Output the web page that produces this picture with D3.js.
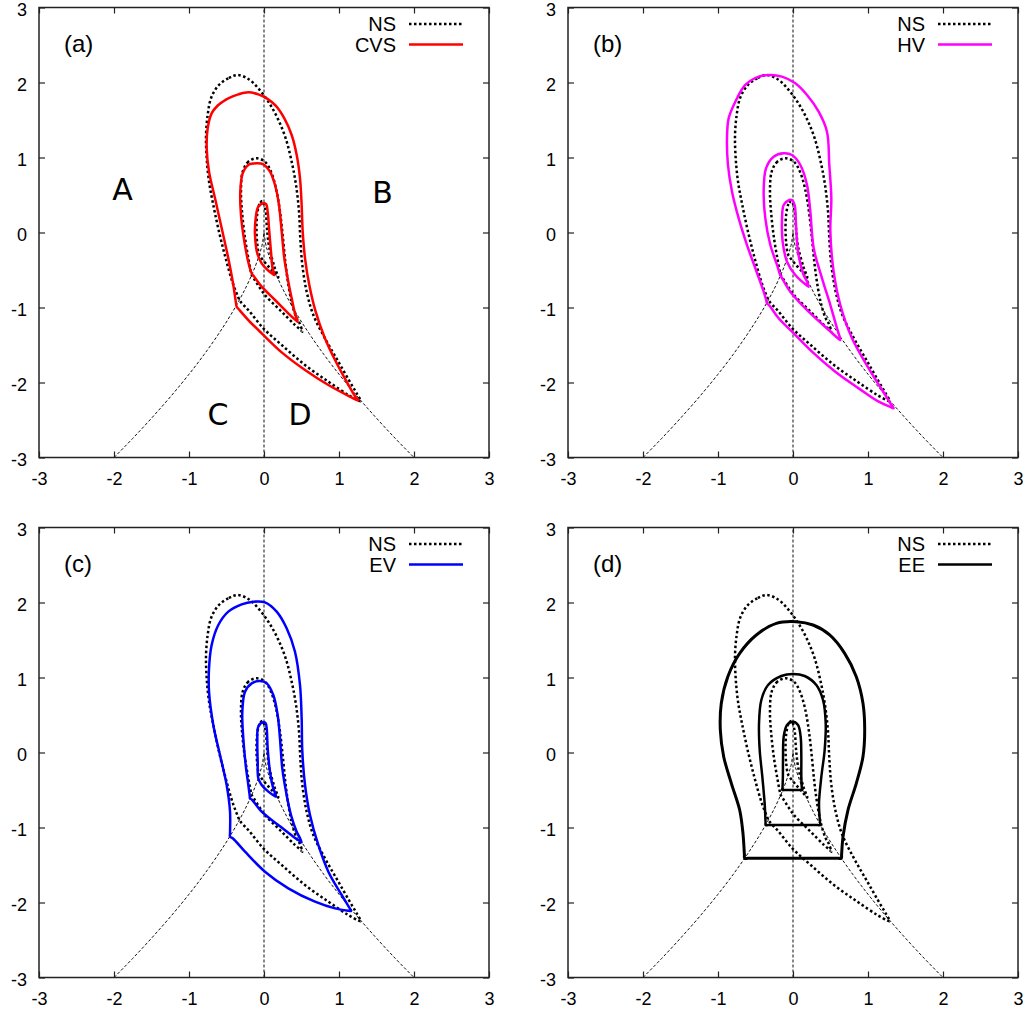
<!DOCTYPE html>
<html>
<head>
<meta charset="utf-8">
<script src="https://cdn.jsdelivr.net/npm/d3@7"></script>
<style>
  body { margin: 0; background: #fff; }
  svg { display: block; }
  text { font-family: "Liberation Sans", Arial, Helvetica, sans-serif; fill: #000; }
</style>
</head>
<body>
<svg id="chart"></svg>
<script>
// ---- data (in Q/R units) ----
const tickValues = [-3, -2, -1, 0, 1, 2, 3]

// zero discriminant line, two branches meeting at the origin
const tailLeft = [[-2, -3], [-1.75, -2.745], [-1.5, -2.476], [-1.25, -2.193], [-1, -1.89], [-0.8, -1.629], [-0.6, -1.344],
    [-0.45, -1.11], [-0.3, -0.847], [-0.2, -0.646], [-0.1, -0.407], [-0.05, -0.257], [-0.02, -0.14], [0, 0]]
const tailRight = [[0, 0], [0.02, -0.14], [0.05, -0.257], [0.1, -0.407], [0.2, -0.646], [0.3, -0.847], [0.45, -1.11],
    [0.6, -1.344], [0.8, -1.629], [1, -1.89], [1.25, -2.193], [1.5, -2.476], [1.75, -2.745], [2, -3]]
const zeroLine = [[0, -3], [0, 3]]

// NS (reference) contours
const nsOuter = [[-0.351, 2.10], [-0.476, 2.056], [-0.609, 1.958], [-0.707, 1.789], [-0.751, 1.567], [-0.773, 1.30],
    [-0.764, 0.989], [-0.733, 0.678], [-0.676, 0.367], [-0.60, 0.011], [-0.511, -0.344], [-0.422, -0.656],
    [-0.345, -0.86], [-0.32, -0.913], [-0.28, -0.96], [-0.209, -1.033], [-0.009, -1.278], [0.236, -1.5], [0.547, -1.767],
    [0.858, -1.989], [1.124, -2.167], [1.25, -2.235], [1.289, -2.25], [1.24, -2.15], [1.169, -2.033], [0.991, -1.722],
    [0.813, -1.411], [0.658, -1.1], [0.569, -0.789], [0.511, -0.433], [0.484, -0.078], [0.467, 0.278], [0.427, 0.633],
    [0.369, 0.944], [0.289, 1.256], [0.182, 1.522], [0.058, 1.744], [-0.076, 1.922], [-0.209, 2.047]]
const nsMiddle = [[-0.098, 0.989], [-0.209, 0.944], [-0.284, 0.811], [-0.307, 0.544], [-0.289, 0.233], [-0.253, -0.078],
    [-0.209, -0.344], [-0.18, -0.5], [-0.164, -0.567], [-0.13, -0.62], [0.013, -0.833], [0.236, -1.056], [0.413, -1.233],
    [0.49, -1.3], [0.511, -1.322], [0.47, -1.2], [0.436, -1.144], [0.378, -0.967], [0.333, -0.744], [0.289, -0.433],
    [0.253, -0.078], [0.213, 0.278], [0.16, 0.589], [0.093, 0.811], [0.013, 0.944]]
const nsInner = [[-0.02, 0.42], [-0.06, 0.38], [-0.09, 0.25], [-0.10, 0.05], [-0.09, -0.15], [-0.07, -0.28], [-0.05, -0.32],
    [0.03, -0.42], [0.12, -0.52], [0.19, -0.6], [0.14, -0.46], [0.07, -0.2], [0.04, 0.05], [0.02, 0.3]]

// CVS
const cvsOuter = [[-0.342, 1.842], [-0.209, 1.869], [-0.076, 1.842], [0.036, 1.789], [0.156, 1.691], [0.271, 1.522],
    [0.369, 1.30], [0.436, 1.033], [0.48, 0.722], [0.502, 0.367], [0.516, 0.011], [0.547, -0.344], [0.604, -0.70],
    [0.689, -1.056], [0.804, -1.389], [0.947, -1.70], [1.102, -1.989], [1.204, -2.167], [1.24, -2.215], [1.258, -2.24],
    [1.22, -2.225], [1.147, -2.189], [0.858, -2.033], [0.547, -1.833], [0.236, -1.598], [-0.031, -1.344],
    [-0.209, -1.167], [-0.33, -1.03], [-0.364, -0.989], [-0.375, -0.93], [-0.409, -0.70], [-0.476, -0.344],
    [-0.564, 0.056], [-0.653, 0.456], [-0.733, 0.811], [-0.764, 1.122], [-0.751, 1.389], [-0.698, 1.589],
    [-0.62, 1.69], [-0.556, 1.74], [-0.476, 1.789]]
const cvsMiddle = [[-0.098, 0.922], [-0.209, 0.90], [-0.284, 0.789], [-0.316, 0.544], [-0.307, 0.233], [-0.262, -0.122],
    [-0.20, -0.433], [-0.17, -0.53], [-0.156, -0.558], [-0.13, -0.59], [-0.031, -0.722], [0.147, -0.90], [0.324, -1.078],
    [0.43, -1.175], [0.449, -1.189], [0.43, -1.13], [0.413, -1.078], [0.369, -0.878], [0.324, -0.656], [0.271, -0.344],
    [0.236, 0.011], [0.20, 0.367], [0.147, 0.633], [0.08, 0.811], [-0.009, 0.909]]
const cvsInner = [[-0.009, 0.389], [-0.076, 0.344], [-0.111, 0.189], [-0.12, -0.033], [-0.089, -0.278], [-0.031, -0.411],
    [0.049, -0.50], [0.125, -0.56], [0.138, -0.567], [0.12, -0.50], [0.111, -0.456], [0.093, -0.256], [0.067, 0.056],
    [0.049, 0.278], [0.027, 0.378]]

// HV
const hvOuter = [[-0.302, 2.10], [-0.458, 2.078], [-0.636, 1.967], [-0.769, 1.744], [-0.858, 1.522], [-0.88, 1.256],
    [-0.867, 0.90], [-0.813, 0.544], [-0.724, 0.189], [-0.613, -0.167], [-0.502, -0.478], [-0.391, -0.789],
    [-0.355, -0.91], [-0.347, -0.944], [-0.31, -0.98], [-0.191, -1.144], [-0.013, -1.322], [0.253, -1.589],
    [0.564, -1.856], [0.876, -2.078], [1.142, -2.256], [1.31, -2.33], [1.342, -2.344], [1.30, -2.28], [1.231, -2.167],
    [1.009, -1.811], [0.787, -1.411], [0.631, -0.967], [0.542, -0.522], [0.498, 0.011], [0.511, 0.456], [0.484, 0.90],
    [0.453, 1.344], [0.342, 1.611], [0.187, 1.833], [0.031, 1.989], [-0.147, 2.078]]
const hvMiddle = [[-0.124, 1.056], [-0.258, 1.011], [-0.36, 0.856], [-0.391, 0.544], [-0.369, 0.189], [-0.302, -0.167],
    [-0.213, -0.433], [-0.18, -0.54], [-0.169, -0.567], [-0.14, -0.62], [-0.036, -0.789], [0.209, -1.056], [0.476, -1.30],
    [0.61, -1.42], [0.631, -1.433], [0.61, -1.35], [0.587, -1.278], [0.498, -0.967], [0.387, -0.611], [0.276, -0.211],
    [0.231, 0.278], [0.187, 0.633], [0.098, 0.90], [-0.013, 1.033]]
const hvInner = [[-0.049, 0.433], [-0.124, 0.367], [-0.147, 0.144], [-0.138, -0.122], [-0.08, -0.389], [0.031, -0.567],
    [0.19, -0.71], [0.209, -0.722], [0.18, -0.64], [0.142, -0.567], [0.067, -0.256], [0.04, 0.10], [0.022, 0.367],
    [-0.013, 0.433]]

// EV
const evOuter = [[-0.142, 2.011], [-0.298, 1.976], [-0.476, 1.878], [-0.609, 1.70], [-0.698, 1.433], [-0.733, 1.122],
    [-0.733, 0.811], [-0.676, 0.367], [-0.587, -0.033], [-0.498, -0.433], [-0.453, -0.789], [-0.453, -1.08],
    [-0.453, -1.122], [-0.41, -1.15], [-0.253, -1.322], [0.013, -1.589], [0.324, -1.811], [0.68, -1.989],
    [0.947, -2.078], [1.13, -2.11], [1.16, -2.113], [1.12, -2.04], [1.036, -1.90], [0.858, -1.589], [0.724, -1.233],
    [0.613, -0.833], [0.547, -0.433], [0.511, 0.011], [0.502, 0.456], [0.48, 0.90], [0.413, 1.344], [0.302, 1.656],
    [0.169, 1.878], [0.013, 2.002]]
const evMiddle = [[-0.053, 0.953], [-0.164, 0.922], [-0.253, 0.811], [-0.289, 0.544], [-0.276, 0.189], [-0.244, -0.167],
    [-0.209, -0.433], [-0.19, -0.58], [-0.187, -0.611], [-0.16, -0.63], [-0.031, -0.789], [0.191, -0.967],
    [0.391, -1.122], [0.49, -1.19], [0.502, -1.198], [0.47, -1.12], [0.436, -1.056], [0.36, -0.833], [0.302, -0.567],
    [0.244, -0.211], [0.213, 0.189], [0.182, 0.50], [0.124, 0.767], [0.036, 0.922]]
const evInner = [[-0.009, 0.402], [-0.076, 0.344], [-0.089, 0.144], [-0.084, -0.122], [-0.076, -0.344], [-0.031, -0.433],
    [0.058, -0.522], [0.15, -0.585], [0.16, -0.589], [0.14, -0.52], [0.124, -0.478], [0.08, -0.256], [0.049, 0.056],
    [0.036, 0.322], [0.022, 0.389]]

// EE
const eeOuter = [[0.044, 1.744], [-0.222, 1.722], [-0.489, 1.567], [-0.711, 1.322], [-0.867, 1.017], [-0.956, 0.656],
    [-0.969, 0.30], [-0.924, -0.056], [-0.822, -0.411], [-0.711, -0.767], [-0.667, -1.078], [-0.648, -1.36],
    [-0.644, -1.411], [-0.6, -1.411], [0, -1.411], [0.6, -1.411], [0.644, -1.411], [0.648, -1.36], [0.667, -1.122],
    [0.733, -0.767], [0.844, -0.411], [0.933, -0.056], [0.956, 0.30], [0.933, 0.656], [0.844, 1.011], [0.689, 1.322],
    [0.489, 1.567], [0.267, 1.70]]
const eeMiddle = [[0, 1.047], [-0.156, 1.02], [-0.333, 0.90], [-0.422, 0.70], [-0.453, 0.389], [-0.444, 0.033],
    [-0.409, -0.322], [-0.378, -0.678], [-0.366, -0.93], [-0.364, -0.967], [-0.33, -0.967], [0, -0.967], [0.33, -0.967],
    [0.364, -0.967], [0.36, -0.93], [0.347, -0.678], [0.378, -0.322], [0.422, 0.033], [0.436, 0.389], [0.40, 0.70],
    [0.311, 0.90], [0.156, 1.02]]
const eeInner = [[0, 0.411], [-0.08, 0.367], [-0.124, 0.211], [-0.133, -0.056], [-0.135, -0.322], [-0.14, -0.47],
    [-0.142, -0.50], [-0.11, -0.50], [0, -0.50], [0.1, -0.50], [0.124, -0.50], [0.118, -0.47], [0.111, -0.322],
    [0.111, -0.056], [0.102, 0.211], [0.067, 0.367]]

const panelLabels = ["(a)", "(b)", "(c)", "(d)"]
const seriesNames = ["CVS", "HV", "EV", "EE"]
const seriesColors = ["#ff0000", "#ff00ff", "#0000ff", "#000000"]
const seriesLoops = [
    [cvsOuter, cvsMiddle, cvsInner],
    [hvOuter, hvMiddle, hvInner],
    [evOuter, evMiddle, evInner],
    [eeOuter, eeMiddle, eeInner]
]
const nsLoops = [nsOuter, nsMiddle, nsInner]

// ---- layout ----
const width = 1027
const height = 1014
const size = 450
const lefts = [39, 568]
const tops = [7.5, 527.5]

const svg = d3.select("#chart")
    .attr("width", width)
    .attr("height", height)

panelLabels.forEach((lab, i) => {
    const g = svg.append("g")
        .attr("transform", `translate(${lefts[i % 2]},${tops[Math.floor(i / 2)]})`)
    drawPanel(g, i)
})

function drawPanel(g, i) {
    const x = d3.scaleLinear().domain([-3, 3]).range([0, size])
    const y = d3.scaleLinear().domain([-3, 3]).range([size, 0])

    const clipId = "clip" + i
    g.append("clipPath").attr("id", clipId)
        .append("rect").attr("width", size).attr("height", size)

    const plot = g.append("g").attr("clip-path", `url(#${clipId})`)

    const straight = d3.line().x(d => x(d[0])).y(d => y(d[1]))
    const branch = d3.line().x(d => x(d[0])).y(d => y(d[1])).curve(d3.curveMonotoneX)
    const loop = d3.line().x(d => x(d[0])).y(d => y(d[1])).curve(d3.curveCatmullRomClosed.alpha(0.5))

    // thin dashed guides
    plot.append("path").attr("d", straight(zeroLine))
        .attr("fill", "none").attr("stroke", "#111").attr("stroke-width", 1).attr("stroke-dasharray", "3,2")
    ;[tailLeft, tailRight].forEach(b => {
        plot.append("path").attr("d", branch(b))
            .attr("fill", "none").attr("stroke", "#111").attr("stroke-width", 1).attr("stroke-dasharray", "3,2")
    })

    // NS dotted
    nsLoops.forEach(l => {
        plot.append("path").attr("d", loop(l))
            .attr("fill", "none").attr("stroke", "#000").attr("stroke-width", 2.5)
            .attr("stroke-dasharray", "2.5,2.5")
    })

    // model contours
    seriesLoops[i].forEach((l, k) => {
        plot.append("path").attr("d", loop(l))
            .attr("fill", "none").attr("stroke", seriesColors[i])
            .attr("stroke-width", (i == 3 && k == 0) ? 3 : 2.5)
            .attr("stroke-linejoin", "round")
    })

    // axes, ticks inward on all four sides
    const fmt = d => String(d)
    const bottom = g.append("g").attr("transform", `translate(0,${size})`)
        .call(d3.axisBottom(x).tickValues(tickValues).tickSizeInner(-6).tickSizeOuter(0).tickFormat(fmt))
    bottom.selectAll("text").attr("y", 27.5).attr("dy", 0)
    const left = g.append("g")
        .call(d3.axisLeft(y).tickValues(tickValues).tickSizeInner(-6).tickSizeOuter(0).tickFormat(fmt))
    left.selectAll("text").attr("x", -12).attr("y", 7.5).attr("dy", 0)
    g.append("g").call(d3.axisTop(x).tickValues(tickValues).tickSizeInner(-6).tickSizeOuter(0).tickFormat(""))
    g.append("g").attr("transform", `translate(${size},0)`)
        .call(d3.axisRight(y).tickValues(tickValues).tickSizeInner(-6).tickSizeOuter(0).tickFormat(""))
    g.selectAll(".domain").remove()
    g.selectAll(".tick line").attr("stroke", "#222").attr("stroke-width", 1.2)
    g.selectAll(".tick text").attr("font-size", 18).attr("font-family", "Liberation Sans, Arial, sans-serif").attr("fill", "#000")

    g.append("rect").attr("width", size).attr("height", size)
        .attr("fill", "none").attr("stroke", "#222").attr("stroke-width", 1.5)

    // panel label
    g.append("text").attr("x", 25).attr("y", 44).attr("font-size", 24).text(panelLabels[i])

    // legend
    const legend = [
        { name: "NS", color: "#000", dash: "2.5,2.5", w: 2.5, yy: 16.5 },
        { name: seriesNames[i], color: seriesColors[i], dash: null, w: 2.5, yy: 37 }
    ]
    legend.forEach(it => {
        g.append("text").attr("x", 357).attr("y", it.yy).attr("dy", "0.35em")
            .attr("text-anchor", "end").attr("font-size", 20).text(it.name)
        g.append("line").attr("x1", 370).attr("x2", 424).attr("y1", it.yy).attr("y2", it.yy)
            .attr("stroke", it.color).attr("stroke-width", it.w)
            .attr("stroke-dasharray", it.dash)
    })

    // region letters on the first panel
    if (i == 0) {
        const regions = [["A", -1.887, 0.433], ["B", 1.58, 0.393], ["C", -0.613, -2.567], ["D", 0.48, -2.567]]
        regions.forEach(r => {
            g.append("text").attr("x", x(r[1])).attr("y", y(r[2]))
                .attr("text-anchor", "middle").attr("font-size", 30)
                .style("font-family", "DejaVu Sans, sans-serif")
                .text(r[0])
        })
    }
}
</script>
</body>
</html>
